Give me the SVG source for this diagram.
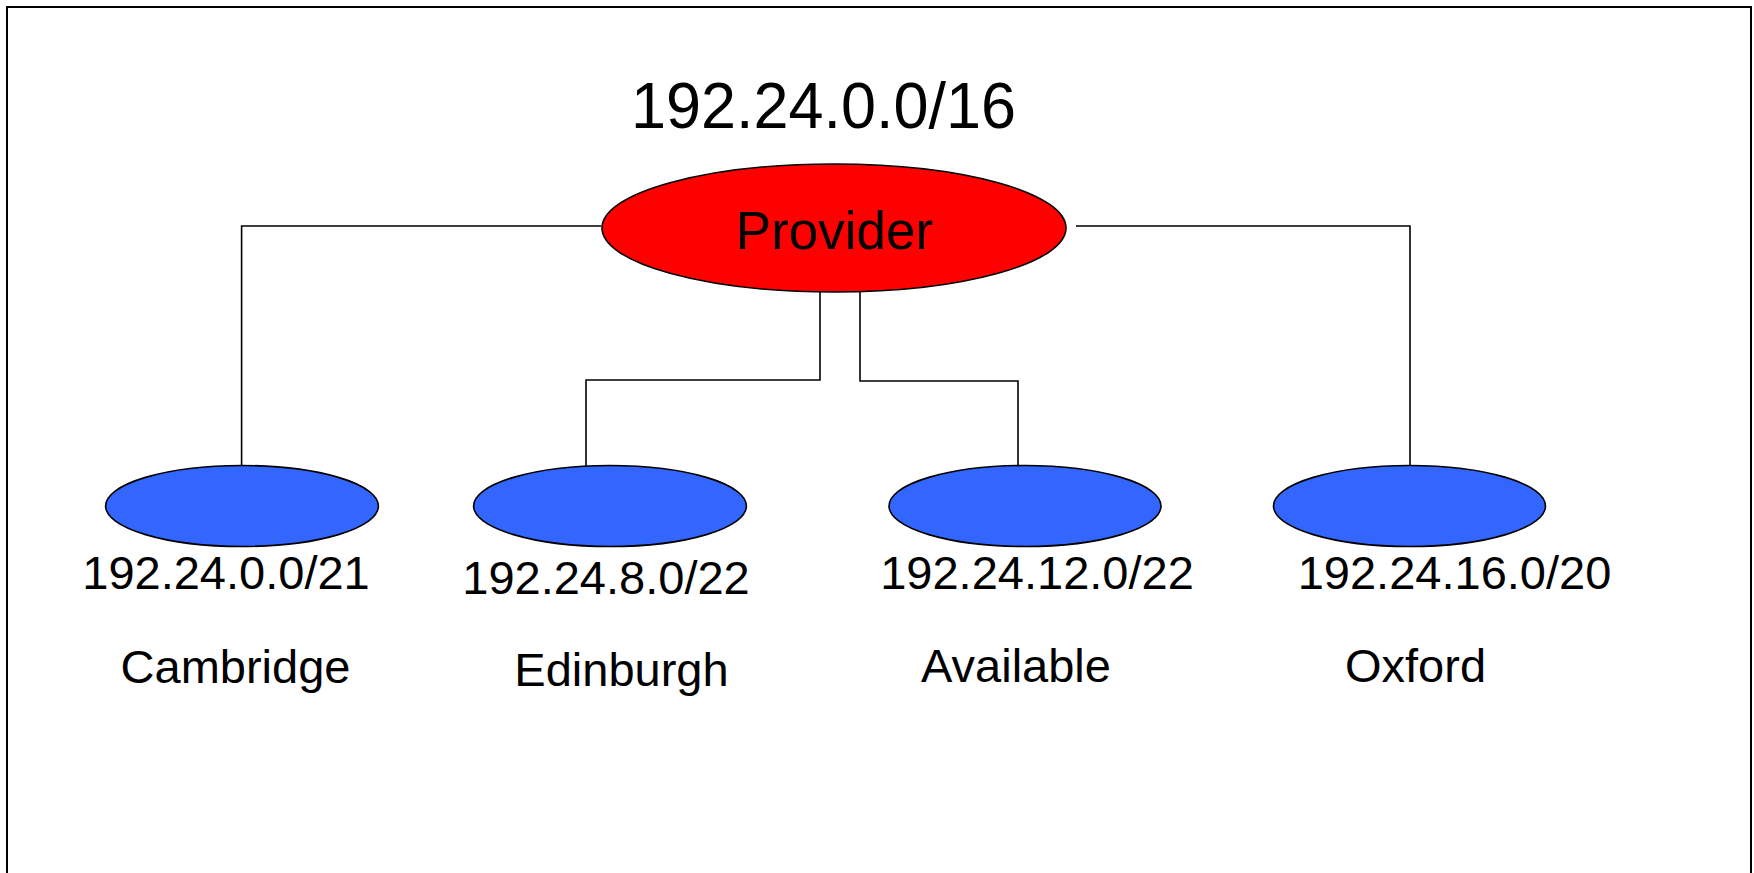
<svg xmlns="http://www.w3.org/2000/svg" width="1754" height="873" viewBox="0 0 1754 873">
<style>
text{font-family:"Liberation Sans",Arial,sans-serif;fill:#000}
.lbl{font-size:47px;text-anchor:middle}
.conn{fill:none;stroke:#000;stroke-width:1.6}
.site{fill:#3366FF;stroke:#000;stroke-width:1.6}
</style>
<rect x="7" y="7" width="1744" height="900" fill="#fff" stroke="#000" stroke-width="2"/>
<g id="connectors">
<polyline class="conn" points="601,226 241.6,226 241.6,466"/>
<polyline class="conn" points="820,290 820,380 586,380 586,467"/>
<polyline class="conn" points="860,290 860,381 1018,381 1018,466"/>
<polyline class="conn" points="1076,226 1410,226 1410,466"/>
</g>
<g id="title">
<text x="823.5" y="128" font-size="64" text-anchor="middle" textLength="385" lengthAdjust="spacingAndGlyphs">192.24.0.0/16</text>
</g>
<g id="provider">
<ellipse cx="834" cy="228" rx="232" ry="64" fill="#FF0000" stroke="#000" stroke-width="1.6"/>
<text x="834.5" y="249" font-size="53" text-anchor="middle">Provider</text>
</g>
<g id="cambridge">
<ellipse class="site" cx="242" cy="506" rx="136.4" ry="40.5"/>
<text class="lbl" x="226" y="589">192.24.0.0/21</text>
<text class="lbl" x="235.5" y="683">Cambridge</text>
</g>
<g id="edinburgh">
<ellipse class="site" cx="610" cy="506" rx="136.4" ry="40.5"/>
<text class="lbl" x="606" y="594">192.24.8.0/22</text>
<text class="lbl" x="621.5" y="686">Edinburgh</text>
</g>
<g id="available">
<ellipse class="site" cx="1025" cy="506" rx="136" ry="40.5"/>
<text class="lbl" x="1037" y="589">192.24.12.0/22</text>
<text class="lbl" x="1016" y="682">Available</text>
</g>
<g id="oxford">
<ellipse class="site" cx="1409.5" cy="506" rx="136" ry="40.5"/>
<text class="lbl" x="1454.5" y="589">192.24.16.0/20</text>
<text class="lbl" x="1415.5" y="682">Oxford</text>
</g>
</svg>
